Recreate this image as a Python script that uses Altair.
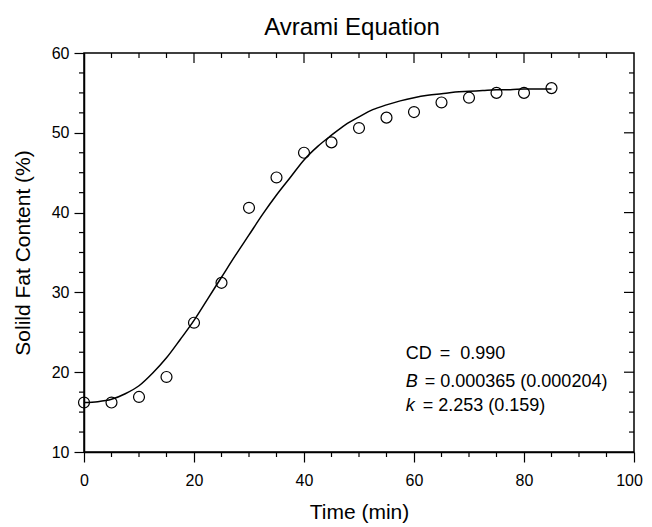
import altair as alt
import pandas as pd

# Measured data (Time in min, Solid Fat Content in %)
times = [0, 5, 10, 15, 20, 25, 30, 35, 40, 45, 50, 55, 60, 65, 70, 75, 80, 85]
sfc = [16.2, 16.2, 16.9, 19.4, 26.2, 31.2, 40.6, 44.4, 47.5, 48.8, 50.6, 51.9,
       52.6, 53.8, 54.4, 55.0, 55.0, 55.6]

# Fitted Avrami curve
fit_t = [0, 2.5, 5, 7.5, 10, 12.5, 15, 17.5, 20, 22.5, 25, 27.5, 30, 32.5, 35,
         37.5, 40, 42.5, 45, 47.5, 50, 52.5, 55, 57.5, 60, 62.5, 65, 67.5, 70,
         72.5, 75, 77.5, 80, 82.5, 85]
fit_sfc = [16.2, 16.3, 16.6, 17.3, 18.3, 19.9, 21.8, 24.1, 26.5, 29.2, 31.9,
           34.6, 37.2, 39.8, 42.2, 44.4, 46.6, 48.3, 49.7, 51.0, 52.0, 52.9,
           53.5, 54.0, 54.4, 54.7, 54.9, 55.1, 55.2, 55.3, 55.4, 55.4, 55.5,
           55.5, 55.5]

# Tick values
x_major = [0, 20, 40, 60, 80, 100]
x_minor = [5, 10, 15, 25, 30, 35, 45, 50, 55, 65, 70, 75, 85, 90, 95]
y_major = [10, 20, 30, 40, 50, 60]
y_minor = [12.5, 15, 17.5, 22.5, 25, 27.5, 32.5, 35, 37.5, 42.5, 45, 47.5,
           52.5, 55, 57.5]

# Annotation texts
ann_symbols = ["CD", "B", "k"]
ann_values = ["= \u00a00.990", "= 0.000365 (0.000204)", "= 2.253 (0.159)"]

FONT = "Liberation Sans"
W, H = 550, 399

xs = alt.Scale(domain=[0, 100], nice=False, zero=False)
ys = alt.Scale(domain=[10, 60], nice=False, zero=False)

pts_df = pd.DataFrame({"t": times, "sfc": sfc})
fit_df = pd.DataFrame({"t": fit_t, "sfc": fit_sfc})

xaxis = alt.Axis(values=x_major, tickSize=10, labelPadding=10, title="Time (min)",
                 titlePadding=13, labelFontSize=16, titleFontSize=21,
                 labelFlush=False,
                 labelOffset=alt.ExprRef(expr="datum.value == 100 ? -5 : 0"))
yaxis = alt.Axis(values=y_major, tickSize=10, labelPadding=5,
                 title="Solild Fat Content (%)", titlePadding=18,
                 labelFontSize=16, titleFontSize=21, labelFlush=False)

line = alt.Chart(fit_df).mark_line(color="black", strokeWidth=1.5,
                                   interpolate="monotone").encode(
    x=alt.X("t:Q", scale=xs, axis=xaxis),
    y=alt.Y("sfc:Q", scale=ys, axis=yaxis),
)

points = alt.Chart(pts_df).mark_point(shape="circle", filled=False, size=120,
                                      color="black", strokeWidth=1.2, opacity=1).encode(
    x=alt.X("t:Q", scale=xs),
    y=alt.Y("sfc:Q", scale=ys),
)

def xrules(vals, y0, y1):
    return alt.Chart(pd.DataFrame({"v": vals})).mark_rule(
        color="black", strokeWidth=1.2).encode(
        x=alt.X("v:Q", scale=xs), y=alt.value(y0), y2=alt.value(y1))

def yrules(vals, x0, x1):
    return alt.Chart(pd.DataFrame({"v": vals})).mark_rule(
        color="black", strokeWidth=1.2).encode(
        y=alt.Y("v:Q", scale=ys), x=alt.value(x0), x2=alt.value(x1))

tick_layers = [
    xrules(x_minor, H, H + 5),          # bottom minor (outward)
    xrules(x_major[1:-1], 0, 10),       # top major (inward)
    xrules(x_minor, 0, 5),              # top minor (inward)
    yrules(y_minor, -5, 0),             # left minor (outward)
    yrules(y_major[1:-1], W - 10, W),   # right major (inward)
    yrules(y_minor, W - 5, W),          # right minor (inward)
]

ANN_X = 58.5
ann_y = [21.6, 18.2, 15.1]

def ann_text(txt, y, dx, italic=False):
    kw = dict(align="left", baseline="alphabetic", font=FONT, fontSize=18,
              color="black", dx=dx)
    if italic:
        kw["fontStyle"] = "italic"
    return alt.Chart(pd.DataFrame({"x": [ANN_X], "y": [y], "s": [txt]})).mark_text(
        **kw).encode(x=alt.X("x:Q", scale=xs), y=alt.Y("y:Q", scale=ys),
                     text="s:N")

ann_layers = [
    ann_text(ann_symbols[0], ann_y[0], 0),
    ann_text(ann_values[0], ann_y[0], 34),
    ann_text(ann_symbols[1], ann_y[1], 0, italic=True),
    ann_text(ann_values[1], ann_y[1], 19),
    ann_text(ann_symbols[2], ann_y[2], 0, italic=True),
    ann_text(ann_values[2], ann_y[2], 17),
]

chart = alt.layer(line, points, *tick_layers, *ann_layers).properties(
    width=W, height=H,
    title=alt.TitleParams("Avrami Equation", font=FONT, fontSize=24,
                          fontWeight="normal", color="black", offset=5,
                          anchor="middle", dx=-7),
    autosize=alt.AutoSizeParams(type="none"),
    padding={"left": 76, "top": 45, "right": 10, "bottom": 71},
).configure_view(stroke="black", strokeWidth=1.5).configure_axis(
    grid=False, domainColor="black", domainWidth=1.5, tickColor="black",
    tickWidth=1.2, labelColor="black", titleColor="black", labelFont=FONT,
    titleFont=FONT, titleFontWeight="normal",
)

chart.save("out.html", embed_options={"renderer": "svg", "actions": False})
